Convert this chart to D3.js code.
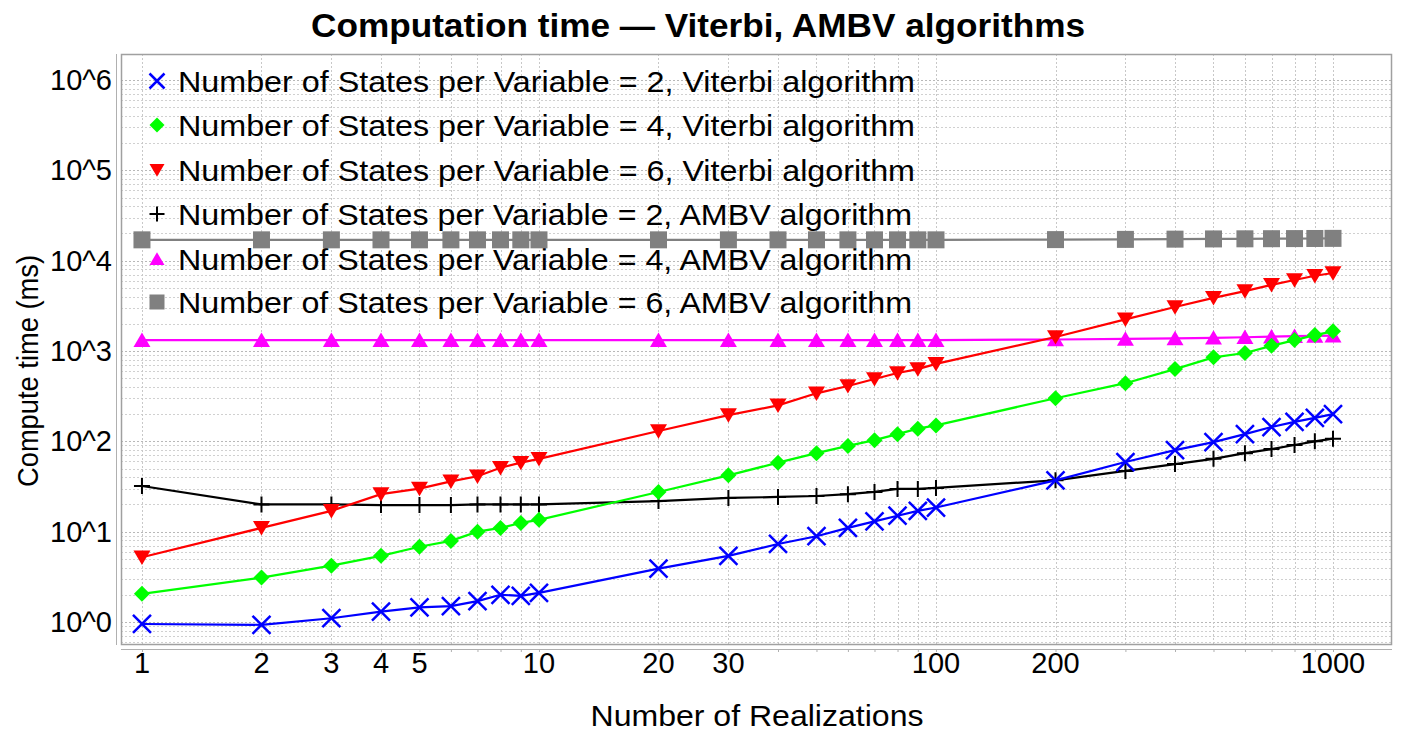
<!DOCTYPE html>
<html>
<head>
<meta charset="utf-8">
<script src="https://cdn.jsdelivr.net/npm/d3@7"></script>
<style>
  html, body { margin: 0; padding: 0; background: #ffffff; }
  svg { display: block; }
  text { font-family: "Liberation Sans", Arial, sans-serif; fill: #000; }
</style>
</head>
<body>
<svg id="chart" width="1403" height="732"></svg>
<script>
// ---------------- DATA ----------------
const realizations = [1,2,3,4,5,6,7,8,9,10,20,30,40,50,60,70,80,90,100,200,300,400,500,600,700,800,900,1000];

const viterbi2 = [0.95,0.93,1.1,1.3,1.45,1.5,1.7,2.0,1.95,2.1,3.9,5.4,7.3,8.9,11,13,15,17,18.5,37,59,80,98,120,144,164,182,200];
const viterbi4 = [2.05,3.1,4.2,5.4,6.8,7.9,10,11,12.5,13.5,27.5,42,58,74,89,103,120,138,150,300,440,630,850,950,1140,1320,1500,1650];
const viterbi6 = [5.2,11,17,26,30,36,41,51,58,64,130,195,250,340,410,490,570,630,720,1430,2240,3070,3870,4600,5400,6100,6800,7300];
const ambv2    = [32,20,20,19.7,19.7,19.7,20,20,20,20,21.8,23.6,24.2,24.8,26,27.5,29.7,29.7,30.5,37,47,56,64,74,82,91,100,107];
const ambv4    = [1320,1320,1320,1320,1320,1320,1320,1320,1320,1320,1320,1320,1320,1320,1320,1320,1320,1320,1320,1340,1360,1380,1400,1420,1440,1460,1470,1480];
const ambv6    = [17000,17000,17000,17000,17000,17000,17000,17000,17000,17000,17000,17000,17000,17000,17000,17000,17000,17000,17000,17100,17200,17300,17400,17450,17500,17550,17600,17650];

const seriesNames = [
  "Number of States per Variable = 2, Viterbi algorithm",
  "Number of States per Variable = 4, Viterbi algorithm",
  "Number of States per Variable = 6, Viterbi algorithm",
  "Number of States per Variable = 2, AMBV algorithm",
  "Number of States per Variable = 4, AMBV algorithm",
  "Number of States per Variable = 6, AMBV algorithm"
];
const seriesColors = ["#0000ff", "#00ff00", "#ff0000", "#000000", "#ff00ff", "#808080"];
const seriesShapes = ["cross", "diamond", "triangleDown", "plus", "triangleUp", "square"];
const seriesValues = [viterbi2, viterbi4, viterbi6, ambv2, ambv4, ambv6];

const xTickLabels = [1,2,3,4,5,10,20,30,100,200,1000];
const yTickValues = [1,10,100,1000,10000,100000,1000000];
const yTickLabels = ["10^0","10^1","10^2","10^3","10^4","10^5","10^6"];

const titleText = "Computation time \u2014 Viterbi, AMBV algorithms";
const xTitle = "Number of Realizations";
const yTitle = "Compute time (ms)";

// ---------------- LAYOUT ----------------
const svg = d3.select("#chart");
const plot = { left: 121, top: 54, right: 1392, bottom: 645 };

const x = d3.scaleLog().domain([0.8855, 1408]).range([plot.left, plot.right]);
const y = d3.scaleLog().domain([0.556, 1.94e6]).range([plot.bottom, plot.top]);

// grid values (1..9 per decade)
const xGrid = [];
for (let d = 1; d <= 1000; d *= 10) for (let m = 1; m <= 9; m++) { const v = m * d; if (v >= x.domain()[0] && v <= x.domain()[1]) xGrid.push(v); }
const yGrid = [];
for (let d = 0.1; d <= 1e6; d *= 10) for (let m = 1; m <= 9; m++) { const v = m * d; if (v >= y.domain()[0] && v <= y.domain()[1]) yGrid.push(v); }

// plot background
svg.append("rect").attr("x", plot.left).attr("y", plot.top)
  .attr("width", plot.right - plot.left).attr("height", plot.bottom - plot.top)
  .attr("fill", "#ffffff");

// gridlines
const grid = svg.append("g");
grid.selectAll(".hg").data(yGrid).enter().append("line")
  .attr("x1", plot.left).attr("x2", plot.right)
  .attr("y1", d => Math.round(y(d)) + 0.5).attr("y2", d => Math.round(y(d)) + 0.5)
  .attr("stroke", d => yTickValues.includes(+d.toPrecision(6)) ? "#b8b8b8" : "#d0d0d0")
  .attr("stroke-width", 1).attr("stroke-dasharray", "2,2");
grid.selectAll(".vg").data(xGrid).enter().append("line")
  .attr("y1", plot.top).attr("y2", plot.bottom)
  .attr("x1", d => Math.round(x(d)) + 0.5).attr("x2", d => Math.round(x(d)) + 0.5)
  .attr("stroke", "#c8c8c8").attr("stroke-width", 1).attr("stroke-dasharray", "2,2");

// plot outline
svg.append("rect").attr("x", plot.left + 0.5).attr("y", plot.top + 0.5)
  .attr("width", plot.right - plot.left - 1).attr("height", plot.bottom - plot.top - 1)
  .attr("fill", "none").attr("stroke", "#a0a0a0").attr("stroke-width", 1.5);

// axes (offset lines)
const xAxisG = svg.append("g").attr("transform", `translate(0,${plot.bottom + 4})`)
  .call(d3.axisBottom(x).tickValues(xGrid).tickSize(3).tickFormat(""));
xAxisG.select(".domain").attr("stroke", "#b0b0b0").attr("d", `M${plot.left},0.5H${plot.right}`);
xAxisG.selectAll(".tick line").attr("stroke", "#b0b0b0");

const yAxisG = svg.append("g").attr("transform", `translate(${plot.left - 4},0)`)
  .call(d3.axisLeft(y).tickValues(yTickValues).tickSize(0).tickFormat(""));
yAxisG.select(".domain").attr("stroke", "#b0b0b0").attr("d", `M-0.5,${plot.top}V${plot.bottom}`);

// helper: stretch text to a target width
function fitWidth(sel, w) {
  sel.attr("textLength", w).attr("lengthAdjust", "spacingAndGlyphs");
}

// tick labels
svg.append("g").selectAll("text").data(xTickLabels).enter().append("text")
  .attr("x", d => x(d)).attr("y", 673)
  .attr("text-anchor", "middle").attr("font-size", 29).text(d => d);
svg.append("g").selectAll("text").data(yTickValues).enter().append("text")
  .attr("x", 112).attr("y", d => y(d) + 10)
  .attr("text-anchor", "end").attr("font-size", 29).text((d, i) => yTickLabels[i]);

// titles
const t = svg.append("text").attr("x", 698).attr("y", 37).attr("text-anchor", "middle")
  .attr("font-size", 33).attr("font-weight", "bold").text(titleText);
fitWidth(t, 774);
const xt = svg.append("text").attr("x", 757).attr("y", 726).attr("text-anchor", "middle")
  .attr("font-size", 30).text(xTitle);
fitWidth(xt, 333);
const yt = svg.append("text").attr("transform", "translate(38,371) rotate(-90)").attr("text-anchor", "middle")
  .attr("font-size", 30).text(yTitle);
fitWidth(yt, 232);

// markers
function drawMarker(g, shape, color, cx, cy, s) {
  const h = s / 2;
  if (shape === "cross") {
    g.append("path").attr("d", `M${cx-h},${cy-h}L${cx+h},${cy+h}M${cx-h},${cy+h}L${cx+h},${cy-h}`)
      .attr("stroke", color).attr("stroke-width", 2.5).attr("fill", "none");
  } else if (shape === "plus") {
    g.append("path").attr("d", `M${cx-h},${cy}L${cx+h},${cy}M${cx},${cy-h}L${cx},${cy+h}`)
      .attr("stroke", color).attr("stroke-width", 2).attr("fill", "none");
  } else if (shape === "diamond") {
    g.append("path").attr("d", `M${cx},${cy-h}L${cx+h},${cy}L${cx},${cy+h}L${cx-h},${cy}Z`).attr("fill", color);
  } else if (shape === "triangleDown") {
    g.append("path").attr("d", `M${cx-h},${cy-h*0.8}L${cx+h},${cy-h*0.8}L${cx},${cy+h*0.9}Z`).attr("fill", color);
  } else if (shape === "triangleUp") {
    g.append("path").attr("d", `M${cx-h},${cy+h*0.8}L${cx+h},${cy+h*0.8}L${cx},${cy-h*0.9}Z`).attr("fill", color);
  } else if (shape === "square") {
    g.append("rect").attr("x", cx - h).attr("y", cy - h).attr("width", s).attr("height", s).attr("fill", color);
  }
}

// legend (inside plot, top-left)
const legend = svg.append("g");
const legendY = [81, 125, 170, 214, 259, 302];
const legendW = [737, 737, 737, 734, 734, 734];
seriesNames.forEach((name, i) => {
  drawMarker(legend, seriesShapes[i], seriesColors[i], 157, legendY[i], 15);
  const lt = legend.append("text").attr("x", 178).attr("y", legendY[i] + 10.5)
    .attr("font-size", 30).text(name);
  fitWidth(lt, legendW[i]);
});

// series
const line = d3.line().x((d, i) => x(realizations[i])).y(d => y(d));
const seriesG = svg.append("g");
const order = [5, 4, 3, 2, 1, 0];
const sizes = { cross: 18, diamond: 16, triangleDown: 17, plus: 16, triangleUp: 17, square: 17 };
order.forEach(i => {
  seriesG.append("path").datum(seriesValues[i]).attr("d", line)
    .attr("fill", "none").attr("stroke", seriesColors[i]).attr("stroke-width", 2.2);
  const mg = seriesG.append("g");
  seriesValues[i].forEach((v, j) => drawMarker(mg, seriesShapes[i], seriesColors[i], x(realizations[j]), y(v), sizes[seriesShapes[i]]));
});
</script>
</body>
</html>
